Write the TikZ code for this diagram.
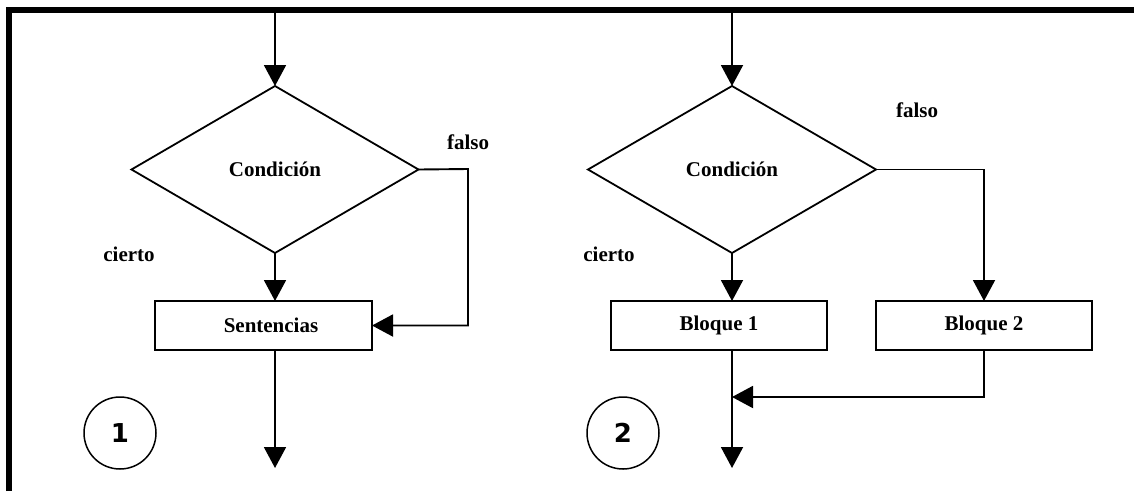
\documentclass[tikz,border=0pt]{standalone}
\usepackage{fontspec}
\setmainfont{Liberation Serif}
\newfontfamily\numfont{DejaVu Sans}
\usetikzlibrary{shapes.geometric,arrows.meta}
\tikzset{
  lbl/.style={font=\fontsize{21}{24}\selectfont\bfseries, inner sep=0pt},
  cond/.style={diamond, draw, line width=1.8pt, minimum width=287pt, minimum height=167pt,
               inner sep=0pt, outer sep=0pt, font=\fontsize{21}{24}\selectfont\bfseries},
  blockbox/.style={rectangle, draw, line width=2pt, minimum width=216pt, minimum height=49pt,
               inner sep=0pt, outer sep=0pt, font=\fontsize{21}{24}\selectfont\bfseries},
  numcircle/.style={circle, draw, line width=1.5pt, minimum size=72pt, inner sep=0pt,
               font=\numfont\bfseries\fontsize{26}{30}\selectfont},
  flow/.style={line width=1.9pt, -{Triangle[length=21pt,width=22pt]}},
}
\begin{document}
\begin{tikzpicture}[x=1pt,y=-1pt]
\useasboundingbox (0,0) rectangle (1134,491);
% frame
\draw[line width=6pt, line join=miter] (9,491) -- (9,10) -- (1134,10);

% ---- structure 1: if without else
\coordinate (t1) at (275,13);
\node[cond] (d1) at (275,169.5) {Condición};
\node[blockbox, minimum width=217pt] (s) at (263.5,325.5) {\hspace*{15pt}Sentencias};
\coordinate (k1) at (468,169);
\coordinate (e1) at (275,468);
\node[lbl] (f1) at (468,142) {falso};
\node[lbl] (c1) at (129,254) {cierto};
\node[numcircle] (n1) at (120,433) {1};

\draw[flow] (t1) -- (d1.north);
\draw[flow] (d1.south) -- (d1.south |- s.north);
\draw[flow] (d1.east) -- (k1) |- (s.east);
\draw[flow] (d1.south |- s.south) -- (e1);

% ---- structure 2: if with else
\coordinate (t2) at (732,13);
\node[cond, minimum width=288pt] (d2) at (732,169.5) {Condición};
\node[blockbox] (b1) at (719,325.5) {Bloque 1};
\node[blockbox] (b2) at (984,325.5) {Bloque 2};
\coordinate (m2) at (732,397);
\coordinate (e2) at (732,468);
\node[lbl] (f2) at (917,110) {falso};
\node[lbl] (c2) at (609,254) {cierto};
\node[numcircle] (n2) at (623,433) {2};

\draw[flow] (t2) -- (d2.north);
\draw[flow] (d2.south) -- (d2.south |- b1.north);
\draw[flow] (d2.east) -| (b2.north);
\draw[flow] (b2.south) |- (m2);
\draw[flow] (d2.south |- b1.south) -- (e2);
\end{tikzpicture}
\end{document}
